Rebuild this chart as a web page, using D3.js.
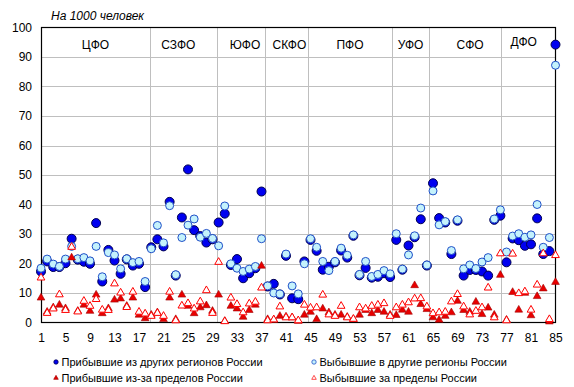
<!DOCTYPE html>
<html><head><meta charset="utf-8">
<script src="https://cdn.jsdelivr.net/npm/d3@7"></script>
<style>
html,body{margin:0;padding:0;background:#fff;}
svg{display:block;font-family:"Liberation Sans",Arial,sans-serif;}
</style></head>
<body>
<svg id="c" width="574" height="387"></svg>
<script>
// ---- data ----
const regionIndex = d3.range(1, 86);
const districts = ["ЦФО","СЗФО","ЮФО","СКФО","ПФО","УФО","СФО","ДФО"];
const districtSizes = [18, 11, 8, 7, 14, 6, 12, 9];
const xTicks = [1,5,9,13,17,21,25,29,33,37,41,45,49,53,57,61,65,69,73,77,81,85];
const yTicks = [0,10,20,30,40,50,60,70,80,90,100];
const seriesNames = ["Прибывшие из других регионов России","Выбывшие в другие регионы России","Прибывшие из-за пределов России","Выбывшие за пределы России"];
const unitLabel = "На 1000 человек";

const arrivalsInternal = [17.3,20.7,18.8,18.8,20.1,28.4,21.3,20.6,19.9,33.7,13.9,24.6,21.0,16.5,21.4,19.3,19.9,12.0,
  25.5,28.2,25.8,40.9,15.9,35.6,51.9,31.3,29.3,27.1,28.2,
  33.9,36.9,19.5,21.5,15.0,16.7,18.4,44.4,
  12.2,13.1,9.5,22.6,8.2,7.9,20.7,
  28.0,24.3,17.9,18.9,20.4,24.4,22.0,29.4,16.0,18.5,15.2,15.5,16.7,15.4,
  28.0,17.9,26.1,28.9,35.0,19.3,
  47.2,35.4,33.9,23.2,34.5,15.9,17.8,17.8,17.3,15.9,34.8,36.2,
  20.4,28.5,27.9,26.0,26.5,35.3,23.2,24.2,94.2];
const departuresInternal = [18.4,21.5,19.8,19.0,21.5,25.8,21.6,22.0,20.9,25.8,15.5,23.7,22.9,18.2,21.6,20.3,20.7,13.9,
  25.0,32.9,27.0,39.6,16.2,28.8,33.0,35.1,28.9,30.2,28.5,
  26.0,39.5,19.9,18.4,17.3,18.1,19.0,28.4,
  12.4,10.0,9.7,23.2,12.4,9.7,19.9,
  28.4,25.5,20.7,17.6,20.7,25.2,22.8,29.7,16.3,20.7,15.6,16.3,17.6,16.5,
  30.1,18.1,22.9,29.4,38.8,19.5,
  44.6,33.1,34.2,24.4,34.8,18.2,19.5,18.3,20.5,22.0,35.1,38.2,
  23.9,29.3,30.1,28.9,29.7,40.0,25.5,28.8,87.2];
const arrivalsAbroad = [8.2,3.4,4.9,5.8,4.6,21.8,3.7,5.8,3.7,9.2,2.9,4.6,7.5,7.9,5.4,8.2,2.4,1.2,
  2.4,3.2,0.9,8.2,0.9,9.2,5.4,2.9,4.9,5.6,3.7,
  9.2,0.3,5.4,4.5,1.7,4.0,5.8,19.0,
  0.9,0.7,2.0,1.8,1.5,0.3,2.4,
  3.4,0.9,4.5,3.2,2.4,2.4,1.7,0.9,2.4,4.0,2.9,4.0,3.4,2.4,
  2.3,4.1,3.4,12.4,6.0,4.3,
  1.5,0.7,2.0,3.2,7.1,4.0,3.4,6.8,2.6,4.8,2.4,15.9,
  0.7,10.1,4.1,9.8,2.2,8.7,11.3,0.1,13.5];
const departuresAbroad = [15.0,3.0,4.5,9.3,4.0,25.4,3.5,7.1,5.4,7.7,4.1,4.0,13.0,9.9,5.0,10.2,3.4,2.8,
  2.0,3.0,2.0,10.2,0.5,5.5,6.3,4.5,6.9,10.7,3.0,
  20.3,0.2,8.2,6.0,3.2,6.2,6.8,11.6,
  0.5,0.8,5.2,1.5,1.5,0.5,5.8,
  4.8,4.9,9.2,2.5,2.0,5.4,1.5,1.0,4.9,4.5,5.4,5.8,6.3,2.0,
  4.9,5.8,6.6,7.9,8.0,5.2,
  2.9,3.2,3.4,6.9,9.4,5.2,2.5,3.7,4.9,11.6,1.5,23.2,
  0.5,23.1,9.7,10.3,4.1,12.6,23.2,0.9,22.6];

// ---- layout ----
const svg = d3.select("#c");
const L = 41, R = 556, T = 27.5, B = 322.5;
const x = d3.scaleLinear().domain([1, 85]).range([L, 555.5]);
const band = d3.scaleLinear().domain([0, 85]).range([L, R]);
const y = d3.scaleLinear().domain([0, 100]).range([B, T]);

// horizontal grid
svg.append("g").selectAll("line").data(yTicks.filter(v => v > 0 && v < 100)).join("line")
  .attr("x1", L).attr("x2", R).attr("y1", d => Math.round(y(d)) + 0.5).attr("y2", d => Math.round(y(d)) + 0.5)
  .attr("stroke", "#bfbfbf").attr("stroke-width", 1);

// district separators
const cum = d3.cumsum(districtSizes);
svg.append("g").selectAll("line").data(cum.slice(0, -1)).join("line")
  .attr("x1", d => Math.round(band(d)) + 0.5).attr("x2", d => Math.round(band(d)) + 0.5)
  .attr("y1", T).attr("y2", B).attr("stroke", "#bfbfbf").attr("stroke-width", 1);

// district labels
const labelDx = [0, -5, 4, 3, 0, 0, 5, -5];
const labelDy = [0, 0, 0, 0, 0, 0, 0, -3];
svg.append("g").selectAll("text").data(districts).join("text")
  .attr("x", (d, i) => band((i ? cum[i-1] : 0) + districtSizes[i] / 2) + labelDx[i])
  .attr("y", (d, i) => 49 + labelDy[i])
  .attr("text-anchor", "middle").attr("font-size", 12).attr("fill", "#000").text(d => d);

// frame
svg.append("rect").attr("x", L + 0.5).attr("y", T).attr("width", R - L - 1).attr("height", B - T)
  .attr("fill", "none").attr("stroke", "#000").attr("stroke-width", 1.2);

// axes
const xAxis = svg.append("g").attr("transform", `translate(0,${B})`)
  .call(d3.axisBottom(x).tickValues(xTicks).tickSize(0).tickPadding(11).tickFormat(d3.format("d")));
xAxis.select(".domain").remove();
xAxis.selectAll("text").attr("font-size", 12).attr("fill", "#000").attr("font-family", "Liberation Sans, Arial, sans-serif");

const yAxis = svg.append("g").attr("transform", `translate(${L},0)`)
  .call(d3.axisLeft(y).tickValues(yTicks).tickSize(0).tickPadding(9));
yAxis.select(".domain").remove();
yAxis.selectAll("text").attr("font-size", 12).attr("fill", "#000").attr("font-family", "Liberation Sans, Arial, sans-serif");

// unit label
svg.append("text").attr("x", 51).attr("y", 19.5).attr("font-size", 12).attr("font-style", "italic")
  .attr("fill", "#000").text(unitLabel);

// ---- marks ----
const tri = d3.symbol().type(d3.symbolTriangle).size(26);
const styles = [
  {kind: "circle", fill: "#0000f0", stroke: "#000050", r: 4.5},
  {kind: "circle", fill: "#c4f2fc", stroke: "#1f4fc8", r: 4.0},
  {kind: "tri", fill: "#e80000", stroke: "#a00000"},
  {kind: "tri", fill: "#ffffff", stroke: "#ff0000"}
];
const allSeries = [arrivalsInternal, departuresInternal, arrivalsAbroad, departuresAbroad];

allSeries.forEach((vals, s) => {
  const st = styles[s];
  const g = svg.append("g");
  const data = vals.map((v, i) => ({i: regionIndex[i], v}));
  if (st.kind === "circle") {
    g.selectAll("circle").data(data).join("circle")
      .attr("cx", d => x(d.i)).attr("cy", d => y(d.v)).attr("r", st.r)
      .attr("fill", st.fill).attr("stroke", st.stroke).attr("stroke-width", 1);
  } else {
    g.selectAll("path").data(data).join("path")
      .attr("d", tri).attr("transform", d => `translate(${x(d.i)},${y(d.v) - 0.5})`)
      .attr("fill", st.fill).attr("stroke", st.stroke).attr("stroke-width", s === 3 ? 1 : 0.6);
  }
});

// ---- legend ----
const legendPos = [[56, 362], [314, 362], [56, 378], [314, 378]];
const lg = svg.append("g");
seriesNames.forEach((name, s) => {
  const [lx, ly] = legendPos[s];
  const st = styles[s];
  if (st.kind === "circle") {
    lg.append("circle").attr("cx", lx).attr("cy", ly).attr("r", 2.2)
      .attr("fill", st.fill).attr("stroke", st.stroke).attr("stroke-width", 0.8);
  } else {
    lg.append("path").attr("d", d3.symbol().type(d3.symbolTriangle).size(9))
      .attr("transform", `translate(${lx},${ly})`)
      .attr("fill", st.fill).attr("stroke", st.stroke).attr("stroke-width", 0.7);
  }
  lg.append("text").attr("x", lx + 5.5).attr("y", ly + 4).attr("font-size", 11).attr("fill", "#000").text(name);
});
</script>
</body></html>
